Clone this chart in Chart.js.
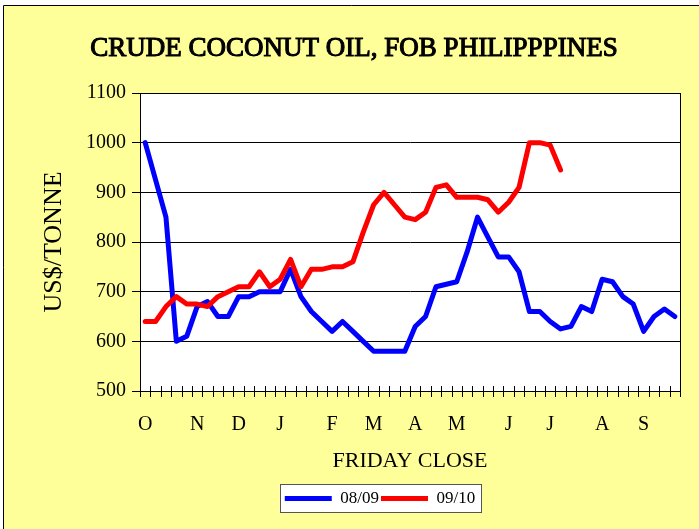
<!DOCTYPE html>
<html>
<head>
<meta charset="utf-8">
<script src="https://cdn.jsdelivr.net/npm/chart.js@4/dist/chart.umd.min.js"></script>
<style>
  html, body { margin: 0; padding: 0; background: #fff; }
  #wrap { width: 699px; height: 529px; }
</style>
</head>
<body>
<div id="wrap"><canvas id="cocoChart" width="699" height="529"></canvas></div>
<script>
// Month labels and the week (Friday) they start on
const monthLabels = ['O', 'N', 'D', 'J', 'F', 'M', 'A', 'M', 'J', 'J', 'A', 'S'];
const monthStartWeek = [0, 5, 9, 13, 18, 22, 26, 30, 35, 39, 44, 48];

// Weekly Friday close, US$/tonne
const season0809 = [1000, 925, 850, 600, 610, 670, 680, 650, 650, 690, 690, 700, 700, 700, 745, 690,
  660, 640, 620, 640, 620, 600, 580, 580, 580, 580, 630, 650, 710, 715, 720, 780,
  850, 810, 770, 770, 740, 660, 660, 640, 625, 630, 670, 660, 725, 720, 690, 675,
  620, 650, 665, 650];
const season0910 = [640, 640, 670, 690, 675, 675, 670, 690, 700, 710, 710, 740, 710, 725, 765, 710,
  745, 745, 750, 750, 760, 820, 875, 900, 875, 850, 845, 860, 910, 915, 890, 890,
  890, 885, 860, 880, 910, 1000, 1000, 995, 945];

const yTicks = [500, 600, 700, 800, 900, 1000, 1100];

const chartTitle = 'CRUDE COCONUT OIL, FOB PHILIPPPINES';

// week labels: month letter on its first Friday, blank otherwise
const weeks = season0809.map((v, i) => {
    const m = monthStartWeek.indexOf(i);
    return m >= 0 ? monthLabels[m] : '';
});

const serif = '"Liberation Serif", "Times New Roman", serif';

// yellow background, plot frame, x tick marks, legend box, title
const chartDecor = {
    id: 'chartDecor',
    afterLayout(chart) {
        // legend sits a bit right of centre in the original
        chart.legend.left += 40;
        chart.legend.right += 40;
    },
    beforeDraw(chart) {
        const ctx = chart.ctx;
        const area = chart.chartArea;
        ctx.save();
        ctx.fillStyle = '#fff';
        ctx.fillRect(0, 0, chart.width, chart.height);
        ctx.fillStyle = '#FFFF99';
        ctx.fillRect(3, 5, chart.width - 3, chart.height - 5);
        ctx.strokeStyle = '#000';
        ctx.lineWidth = 1;
        ctx.beginPath();
        ctx.moveTo(3.5, chart.height);
        ctx.lineTo(3.5, 5.5);
        ctx.lineTo(chart.width, 5.5);
        ctx.stroke();
        ctx.fillStyle = '#fff';
        ctx.fillRect(area.left, area.top, area.right - area.left, area.bottom - area.top);

        // title (serif, thickened by a stroke)
        ctx.font = '27px ' + serif;
        ctx.textAlign = 'center';
        ctx.textBaseline = 'alphabetic';
        ctx.fillStyle = '#000';
        ctx.strokeStyle = '#000';
        ctx.lineWidth = 1.1;
        ctx.fillText(chartTitle, 354, 56);
        ctx.strokeText(chartTitle, 354, 56);

        // legend frame
        const boxes = chart.legend.legendHitBoxes;
        if (boxes && boxes.length) {
            const l = Math.min(...boxes.map(b => b.left)) - 5;
            const r = Math.max(...boxes.map(b => b.left + b.width)) + 6;
            const t = Math.min(...boxes.map(b => b.top)) - 6;
            const btm = Math.max(...boxes.map(b => b.top + b.height)) + 5;
            ctx.fillStyle = '#fff';
            ctx.fillRect(l, t, r - l, btm - t);
            ctx.strokeStyle = '#555';
            ctx.lineWidth = 1;
            ctx.strokeRect(Math.round(l) + 0.5, Math.round(t) + 0.5, Math.round(r - l), Math.round(btm - t));
        }
        ctx.restore();
    },
    beforeDatasetsDraw(chart) {
        const ctx = chart.ctx;
        const area = chart.chartArea;
        const x = chart.scales.x;
        ctx.save();
        ctx.strokeStyle = '#000';
        ctx.lineWidth = 1;
        ctx.strokeRect(Math.round(area.left) + 0.5, Math.round(area.top) + 0.5,
            Math.round(area.right - area.left), Math.round(area.bottom - area.top));
        ctx.beginPath();
        for (let i = 0; i <= weeks.length; i++) {
            const px = Math.round(x.getPixelForValue(i - 0.5)) + 0.5;
            ctx.moveTo(px, area.bottom - 5);
            ctx.lineTo(px, area.bottom + 6);
        }
        ctx.stroke();
        ctx.restore();
    }
};

const ctx = document.getElementById('cocoChart').getContext('2d');
const cocoChart = new Chart(ctx, {
    type: 'line',
    data: {
        labels: weeks,
        datasets: [
            {
                label: '08/09',
                data: season0809,
                borderColor: '#0000FF',
                backgroundColor: '#0000FF',
                borderWidth: 5,
                borderCapStyle: 'round',
                borderJoinStyle: 'round',
                pointRadius: 0,
                tension: 0,
                order: 1
            },
            {
                label: '09/10',
                data: season0910,
                borderColor: '#FF0000',
                backgroundColor: '#FF0000',
                borderWidth: 5,
                borderCapStyle: 'round',
                borderJoinStyle: 'round',
                pointRadius: 0,
                tension: 0,
                order: 0
            }
        ]
    },
    options: {
        responsive: false,
        animation: false,
        layout: { autoPadding: false, padding: { left: 0, right: 19, top: 93, bottom: 12 } },
        plugins: {
            title: { display: false },
            legend: {
                position: 'bottom',
                labels: {
                    color: '#000',
                    font: { family: serif, size: 17 },
                    usePointStyle: true,
                    pointStyle: 'line',
                    pointStyleWidth: 47,
                    padding: 2,
                    sort: (a, b) => a.datasetIndex - b.datasetIndex
                }
            },
            tooltip: { enabled: false }
        },
        scales: {
            x: {
                offset: true,
                grid: { display: true, drawOnChartArea: false, color: 'rgba(0,0,0,0)', tickLength: 6, offset: true },
                border: { display: false },
                ticks: {
                    autoSkip: false,
                    maxRotation: 0,
                    minRotation: 0,
                    padding: 16,
                    color: '#000',
                    font: { family: serif, size: 20 }
                },
                title: {
                    display: true,
                    text: 'FRIDAY CLOSE',
                    color: '#000',
                    font: { family: serif, size: 22 },
                    padding: { top: 0, bottom: 14 }
                },
                afterFit: s => { s.height = 97; }
            },
            y: {
                min: 500,
                max: 1100,
                afterBuildTicks: s => { s.ticks = yTicks.map(v => ({ value: v })); },
                grid: { color: '#000', lineWidth: 1, tickLength: 8 },
                border: { display: true, color: '#000', width: 1 },
                ticks: {
                    padding: 6,
                    color: '#000',
                    font: { family: serif, size: 20 },
                    callback: v => String(v)
                },
                title: {
                    display: true,
                    text: 'US$/TONNE',
                    color: '#000',
                    font: { family: serif, size: 26 },
                    padding: { top: 39, bottom: 0 }
                },
                afterFit: s => { s.width = 140; }
            }
        }
    },
    plugins: [chartDecor]
});
</script>
</body>
</html>
